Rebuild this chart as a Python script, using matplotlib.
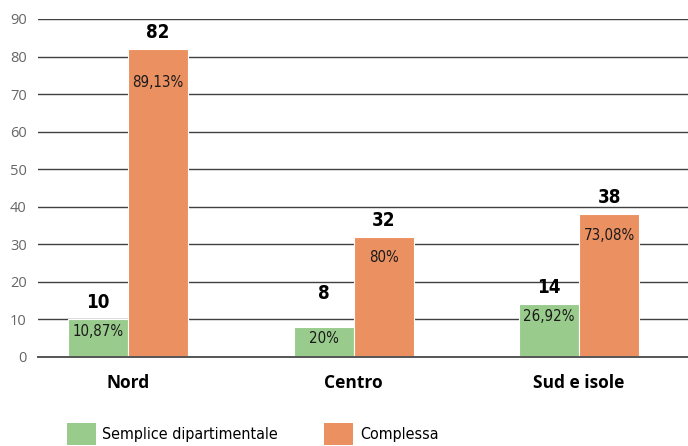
import numpy as np
import matplotlib
matplotlib.use('Agg')
import matplotlib.pyplot as plt
from matplotlib.patches import Patch

# data
regions = ["Nord", "Centro", "Sud e isole"]
series_names = ["Semplice dipartimentale", "Complessa"]
semplice = [10, 8, 14]
complessa = [82, 32, 38]
semplice_pct = ["10,87%", "20%", "26,92%"]
complessa_pct = ["89,13%", "80%", "73,08%"]

GREEN = "#98cb8c"
ORANGE = "#eb9060"
NARROW = dict(family="DejaVu Sans", stretch="condensed")

# label placement tweaks (points), as laid out in the original
value_lift = {(0, 1): 12}      # the "8" label sits higher
pct_drop = {(1, 0): 33}        # "89,13%" sits lower in the bar

fig = plt.figure(figsize=(6.88, 4.46), dpi=100)
ax = fig.add_axes([0.0552, 0.1996, 0.9448, 0.7578])

x = np.arange(len(regions))
w = 0.266
b1 = ax.bar(x - w/2, semplice, w, color=GREEN, edgecolor="white", linewidth=0.8, zorder=3)
b2 = ax.bar(x + w/2, complessa, w, color=ORANGE, edgecolor="white", linewidth=0.8, zorder=3)

ax.set_xlim(-0.399, 2.483)
ax.set_ylim(0, 90)
ax.set_yticks(range(0, 91, 10))
ax.yaxis.grid(True, color="#404040", linewidth=1.0, zorder=0)
ax.axhline(0, color="#555555", linewidth=1.4, zorder=4, clip_on=False)
ax.set_axisbelow(True)
for s in ax.spines.values():
    s.set_visible(False)
ax.tick_params(axis="y", length=0, pad=8, labelcolor="#666666", labelsize=10.5)
ax.tick_params(axis="x", length=0, pad=12)
ax.set_xticks(x)
ax.set_xticklabels(regions, fontsize=12.5, fontweight="bold", family=["Open Sans", "DejaVu Sans"])
for lab in ax.get_yticklabels():
    lab.set_family(["Open Sans", "DejaVu Sans"])

# value labels above bars, percentages inside
for k, (bars, vals, pcts, off) in enumerate([(b1, semplice, semplice_pct, 12), (b2, complessa, complessa_pct, 21)]):
    for i, (bar, v, p) in enumerate(zip(bars, vals, pcts)):
        cx = bar.get_x() + bar.get_width()/2
        ax.annotate(str(v), xy=(cx, v), xytext=(0, 5 + value_lift.get((k, i), 0)),
                    textcoords="offset points", ha="center", va="bottom",
                    fontsize=13.5, fontweight="bold", **NARROW)
        d = pct_drop.get((k, i), off)
        ax.annotate(p, xy=(cx, v), xytext=(0, -d * 0.72), textcoords="offset points",
                    ha="center", va="center", fontsize=10.8, color="#1a1a1a", **NARROW)

handles = [Patch(facecolor=GREEN), Patch(facecolor=ORANGE)]
fig.legend(handles, series_names, loc="center left", bbox_to_anchor=(0.097, 0.027),
           ncol=2, frameon=False, borderpad=0, borderaxespad=0,
           handlelength=1.81, handleheight=1.7, handletextpad=0.42, columnspacing=2.9,
           prop=dict(size=11.5, **NARROW))

plt.savefig("out.png", dpi=100)
plt.close()
